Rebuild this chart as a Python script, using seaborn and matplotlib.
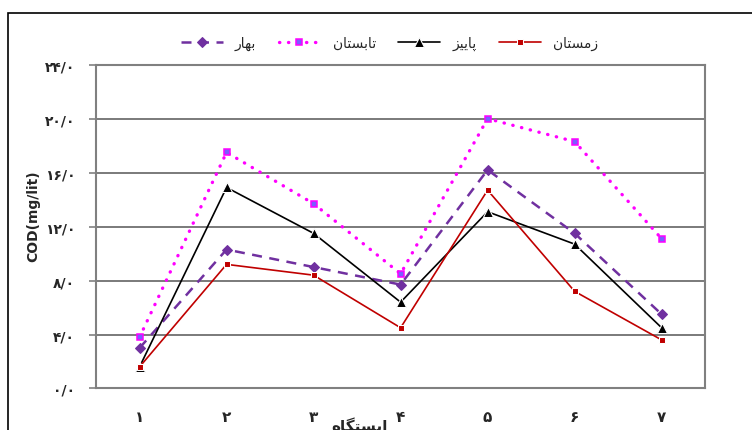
import pandas as pd
import matplotlib
matplotlib.use("Agg")
import matplotlib.pyplot as plt
import seaborn as sns
import numpy as np
from matplotlib.patches import Rectangle

# persian text written in presentation forms, visual order (matplotlib has no shaping)
stations = ["۱", "۲", "۳", "۴", "۵", "۶", "۷"]
spring = [3.0, 10.3, 9.0, 7.7, 16.2, 11.5, 5.5]
summer = [3.8, 17.5, 13.7, 8.5, 20.0, 18.3, 11.1]
autumn = [1.6, 14.9, 11.5, 6.4, 13.1, 10.7, 4.5]
winter = [1.6, 9.2, 8.4, 4.5, 14.7, 7.2, 3.6]
season_names = ["\ufead\ufe8e\ufeec\ufe91",                       # بهار
                "\ufee5\ufe8e\ufe98\ufeb4\ufe91\ufe8e\ufe97",       # تابستان
                "\ufeb0\ufbff\ufbfe\ufe8e\ufb58",                   # پاییز
                "\ufee5\ufe8e\ufe98\ufeb4\ufee3\ufeaf"]             # زمستان
xlabel = "\ufee9\ufe8e\ufb95\ufe98\ufeb4\ufbfe\ufe8d"               # ایستگاه
ylabel = "COD(mg/lit)"
yticks = [0, 4, 8, 12, 16, 20, 24]
ytick_labels = ["۰/۰", "۴/۰", "۸/۰", "۱۲/۰", "۱۶/۰", "۲۰/۰", "۲۴/۰"]

sns.set_style("white")
plt.rcParams["font.family"] = ["DejaVu Sans"]

fig = plt.figure(figsize=(7.52, 4.31), dpi=100)
ax = fig.add_axes([0.1277, 0.0963, 0.81, 0.7513])

styles = [
    dict(color="#7030A0", marker="D", markersize=5, linestyle=(0, (4, 3)), linewidth=1.8,
         markerfacecolor="#7030A0", markeredgecolor="#7030A0"),
    dict(color="#FF00FF", marker="s", markersize=5, linestyle=(0, (0.1, 2.6)), linewidth=2.4,
         dash_capstyle="round", markerfacecolor="#7B5CFF", markeredgecolor="#FF00FF",
         markeredgewidth=1.1),
    dict(color="black", marker="^", markersize=6.5, linestyle="-", linewidth=1.2),
    dict(color="#C00000", marker="s", markersize=5, linestyle="-", linewidth=1.2),
]

for vals, name, st in zip([spring, summer, autumn, winter], season_names, styles):
    df = pd.DataFrame({"station": stations, "cod": vals})
    sns.lineplot(data=df, x="station", y="cod", sort=False, label=name, ax=ax, **st)

ax.set_xlim(-0.5, 6.5)
ax.set_ylim(0, 24)
ax.set_yticks(yticks)
ax.set_yticklabels(ytick_labels, fontsize=10, fontweight="bold")
ax.set_xticks(range(len(stations)))
ax.set_xticklabels(stations, fontsize=11, fontweight="bold")
ax.set_xticks(np.arange(-0.5, 7, 1), minor=True)
ax.tick_params(axis="x", which="major", length=0, pad=15)
ax.tick_params(axis="x", which="minor", length=5, width=1.2, color="#808080", direction="out")
ax.tick_params(axis="y", which="major", length=5, width=1.2, color="#808080", direction="out", pad=10, left=True)

ax.yaxis.grid(True, color="#707070", linewidth=1.3)
ax.xaxis.grid(False)
for s in ax.spines.values():
    s.set_visible(True)
    s.set_color("#808080")
    s.set_linewidth(1.5)

ax.set_ylabel(ylabel, fontsize=10, fontweight="bold")
ax.yaxis.set_label_coords(-0.092, 0.536)
ax.set_xlabel(xlabel, fontsize=11, fontweight="bold", va="top")
ax.xaxis.set_label_coords(0.433, -0.088)

leg = ax.legend(loc="center", bbox_to_anchor=(0.518, 0.897), bbox_transform=fig.transFigure,
                ncol=4, frameon=False, fontsize=10, handlelength=3.0, columnspacing=1.6,
                handletextpad=0.9)

fig.patches.append(Rectangle((8 / 752, -0.2), 1.2, 1.2 - 14 / 431, transform=fig.transFigure,
                             fill=False, edgecolor="black", linewidth=1.2, zorder=0))

fig.savefig("out.png", dpi=100)
